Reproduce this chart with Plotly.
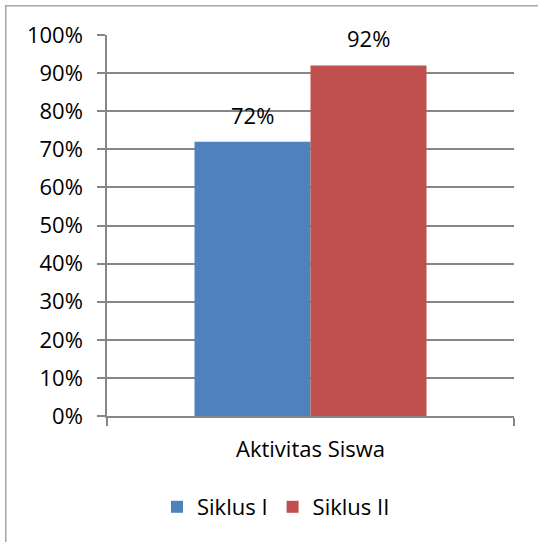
import plotly.graph_objects as go

categories = ["Aktivitas Siswa"]
series_names = ["Siklus I", "Siklus II"]
series_values = [[0.72], [0.92]]
series_colors = ["#4F81BD", "#C0504D"]
y_ticks = [0, 0.1, 0.2, 0.3, 0.4, 0.5, 0.6, 0.7, 0.8, 0.9, 1.0]
y_tick_labels = ["0%", "10%", "20%", "30%", "40%", "50%", "60%", "70%", "80%", "90%", "100%"]

FONT = "Open Sans"
FS = 22
W, H = 538, 542
L, R, T, B = 107, 24, 35, 126
BARGAP = 0.43

fig = go.Figure()
for name, vals, col in zip(series_names, series_values, series_colors):
    fig.add_trace(go.Bar(
        x=categories, y=vals, name=name, marker=dict(color=col, line=dict(width=0)),
    ))

# data labels above each bar
plot_w = W - L - R
bar_w = plot_w * (1 - BARGAP) / len(series_names)
annotations = []
for i, (vals, name) in enumerate(zip(series_values, series_names)):
    for cat, v in zip(categories, vals):
        offset = (i - (len(series_names) - 1) / 2) * bar_w
        annotations.append(dict(
            x=cat, y=v, xref="x", yref="y", text=f"{round(v*100)}%", showarrow=False,
            xshift=offset, yanchor="bottom", yshift=10,
            font=dict(family=FONT, size=FS, color="#000000"),
        ))

def px_to_paper_x(px):
    return (px - L) / (W - L - R)

def px_to_paper_y(py):
    return (H - B - py) / (H - T - B)

# chart-area border (only top and left edges are visible in the crop), drawn as thin filled bands
shapes = [
    dict(type="rect", xref="paper", yref="paper", layer="above",
         x0=px_to_paper_x(5), x1=px_to_paper_x(538),
         y0=px_to_paper_y(5), y1=px_to_paper_y(6.5),
         line=dict(width=0), fillcolor="#A6A6A6"),
    dict(type="rect", xref="paper", yref="paper", layer="above",
         x0=px_to_paper_x(5), x1=px_to_paper_x(6.5),
         y0=px_to_paper_y(5), y1=px_to_paper_y(542),
         line=dict(width=0), fillcolor="#A6A6A6"),
]

fig.update_layout(
    width=W, height=H, margin=dict(l=L, r=R, t=T, b=B),
    paper_bgcolor="white", plot_bgcolor="white",
    barmode="group", bargap=BARGAP, bargroupgap=0,
    font=dict(family=FONT, size=FS, color="#000000"),
    showlegend=True,
    legend=dict(orientation="h", x=px_to_paper_x(276), xanchor="center", y=px_to_paper_y(507), yanchor="middle",
                font=dict(family=FONT, size=FS), itemwidth=30, traceorder="normal"),
    shapes=shapes,
    annotations=annotations,
)
fig.update_xaxes(showline=True, linecolor="#868686", linewidth=1.5, ticks="outside", tickson="boundaries",
                 ticklen=8, tickcolor="#868686", tickwidth=1.5, showgrid=False,
                 tickfont=dict(family=FONT, size=FS, color="#000000"), ticklabelstandoff=13)
fig.update_yaxes(range=[0, 1.0], tickvals=y_ticks, ticktext=y_tick_labels, showline=True, linecolor="#868686",
                 linewidth=1.5, ticks="outside", ticklen=8, tickcolor="#868686", tickwidth=1.5,
                 showgrid=True, gridcolor="#868686", gridwidth=1.5, zeroline=False,
                 tickfont=dict(family=FONT, size=FS, color="#000000"), ticklabelstandoff=10)

fig.write_html("out.html", config={"displayModeBar": False},
               post_script="document.body.style.margin='0';document.body.style.overflow='hidden';")
